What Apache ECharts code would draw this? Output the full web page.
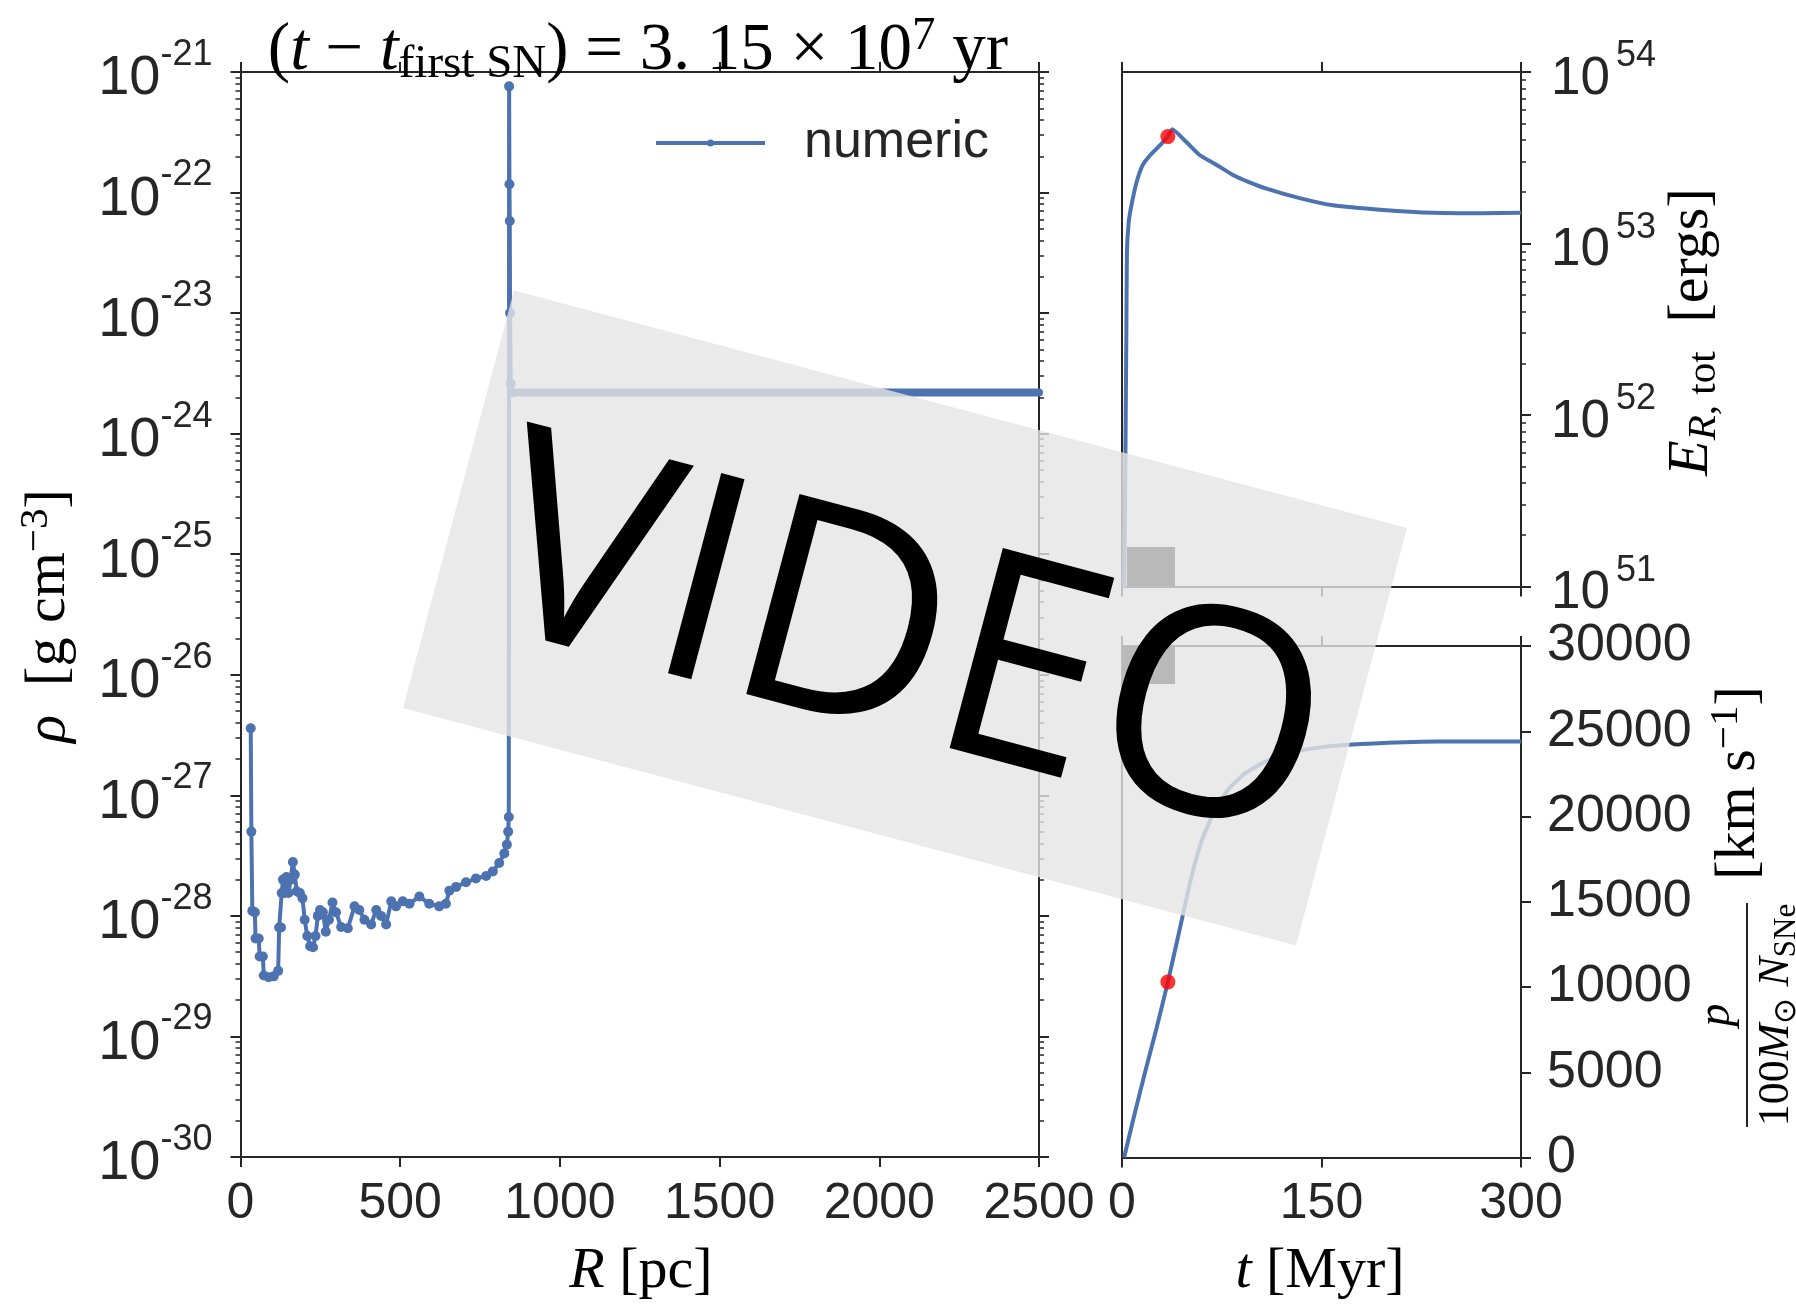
<!DOCTYPE html>
<html><head><meta charset="utf-8">
<script src="https://cdn.jsdelivr.net/npm/echarts@6/dist/echarts.min.js"></script>
<style>html,body{margin:0;padding:0;background:#fff}#c{width:1796px;height:1305px}</style>
</head><body><div id="c"></div>
<script>
// ---------- data ----------
const innerRadius = [32, 34, 37, 45, 47, 57, 60, 70, 73, 88, 104, 118, 121, 127, 129, 133, 138, 144, 150, 157, 164, 170, 176, 186, 194, 201, 209, 218, 227, 235, 242, 249, 258, 267, 277, 288, 299, 315, 336, 357, 372, 388, 409, 425, 440, 456, 472, 487, 508, 529, 560, 591, 622, 643, 654, 675, 706, 737, 769, 790, 810, 826, 834, 838, 840, 841, 842, 843, 844, 846, 850];
const innerDensity = [3.6e-27, 5.0e-28, 1.1e-28, 1.07e-28, 6.5e-29, 6.5e-29, 4.6e-29, 4.6e-29, 3.2e-29, 3.1e-29, 3.15e-29, 3.5e-29, 8.0e-29, 8.0e-29, 1.55e-28, 2.0e-28, 1.55e-28, 2.1e-28, 1.55e-28, 2.0e-28, 2.8e-28, 2.2e-28, 1.6e-28, 1.55e-28, 1.4e-28, 9.3e-29, 6.8e-29, 5.6e-29, 5.5e-29, 6.8e-29, 1.0e-28, 1.12e-28, 1.07e-28, 7.4e-29, 9.3e-29, 1.29e-28, 1.07e-28, 8.1e-29, 7.9e-29, 1.2e-28, 1.12e-28, 9.3e-29, 8.5e-29, 1.12e-28, 1.0e-28, 8.5e-29, 1.32e-28, 1.2e-28, 1.32e-28, 1.26e-28, 1.45e-28, 1.26e-28, 1.2e-28, 1.26e-28, 1.62e-28, 1.74e-28, 1.9e-28, 2.04e-28, 2.14e-28, 2.34e-28, 2.75e-28, 3.3e-28, 3.9e-28, 5.0e-28, 6.6e-28, 7.6e-22, 1.17e-22, 5.8e-23, 1.0e-23, 2.6e-24, 2.2e-24];
const plateauRadius = [850, 870, 890, 910, 930, 950, 970, 990, 1010, 1030, 1050, 1070, 1090, 1110, 1130, 1150, 1170, 1190, 1210, 1230, 1250, 1270, 1290, 1310, 1330, 1350, 1370, 1390, 1410, 1430, 1450, 1470, 1490, 1510, 1530, 1550, 1570, 1590, 1610, 1630, 1650, 1670, 1690, 1710, 1730, 1750, 1770, 1790, 1810, 1830, 1850, 1870, 1890, 1910, 1930, 1950, 1970, 1990, 2010, 2030, 2050, 2070, 2090, 2110, 2130, 2150, 2170, 2190, 2210, 2230, 2250, 2270, 2290, 2310, 2330, 2350, 2370, 2390, 2410, 2430, 2450, 2470, 2490, 2500];
const plateauDensity = [2.2e-24, 2.2e-24, 2.2e-24, 2.2e-24, 2.2e-24, 2.2e-24, 2.2e-24, 2.2e-24, 2.2e-24, 2.2e-24, 2.2e-24, 2.2e-24, 2.2e-24, 2.2e-24, 2.2e-24, 2.2e-24, 2.2e-24, 2.2e-24, 2.2e-24, 2.2e-24, 2.2e-24, 2.2e-24, 2.2e-24, 2.2e-24, 2.2e-24, 2.2e-24, 2.2e-24, 2.2e-24, 2.2e-24, 2.2e-24, 2.2e-24, 2.2e-24, 2.2e-24, 2.2e-24, 2.2e-24, 2.2e-24, 2.2e-24, 2.2e-24, 2.2e-24, 2.2e-24, 2.2e-24, 2.2e-24, 2.2e-24, 2.2e-24, 2.2e-24, 2.2e-24, 2.2e-24, 2.2e-24, 2.2e-24, 2.2e-24, 2.2e-24, 2.2e-24, 2.2e-24, 2.2e-24, 2.2e-24, 2.2e-24, 2.2e-24, 2.2e-24, 2.2e-24, 2.2e-24, 2.2e-24, 2.2e-24, 2.2e-24, 2.2e-24, 2.2e-24, 2.2e-24, 2.2e-24, 2.2e-24, 2.2e-24, 2.2e-24, 2.2e-24, 2.2e-24, 2.2e-24, 2.2e-24, 2.2e-24, 2.2e-24, 2.2e-24, 2.2e-24, 2.2e-24, 2.2e-24, 2.2e-24, 2.2e-24, 2.2e-24, 2.2e-24];

const energyTime = [1.2, 1.8, 2.4, 2.9, 3.3, 3.7, 5.0, 6.9, 10.7, 15.7, 20.7, 27.0, 34.0, 37.8, 48.0, 58.3, 70.0, 83.4, 95.0, 108.6, 133.6, 158.7, 196.3, 234.0, 271.6, 300.0];
const energy = [3.98e50, 1.26e51, 3.98e51, 1.26e52, 3.16e52, 8.91e52, 1.32e53, 1.64e53, 2.24e53, 2.88e53, 3.24e53, 3.63e53, 4.17e53, 4.63e53, 3.93e53, 3.28e53, 2.91e53, 2.51e53, 2.29e53, 2.09e53, 1.84e53, 1.67e53, 1.57e53, 1.51e53, 1.50e53, 1.51e53];

const momentumTime = [1.6, 9, 17, 26, 34.5, 44, 52, 60, 70, 80, 92, 105, 120, 140, 160, 180, 200, 225, 250, 275, 300];
const momentum = [0, 2400, 4900, 7600, 10300, 13600, 16400, 18600, 20400, 21600, 22500, 23100, 23600, 23950, 24150, 24250, 24320, 24380, 24400, 24400, 24400];

const currentTime = [34.5];
const currentEnergy = [4.2e53];
const currentMomentum = [10300];

// ---------- ticks (exponents for the log-scaled axes) ----------
const radiusTicks = [0, 500, 1000, 1500, 2000, 2500];
const densityExponents = [-30, -29, -28, -27, -26, -25, -24, -23, -22, -21];
const energyExponents = [51, 52, 53, 54];
const timeTicks = [0, 150, 300];
const momentumTicks = [0, 5000, 10000, 15000, 20000, 25000, 30000];
const minorMultipliers = [2, 3, 4, 5, 6, 7, 8, 9];

function minorsOf(exps) {
  const out = [];
  for (let i = 0; i < exps.length - 1; i++) minorMultipliers.forEach(k => out.push(exps[i] + Math.log10(k)));
  return out;
}
const lg = v => Math.log10(v);

// ---------- styles ----------
const FONT = '"Liberation Sans", Arial, sans-serif';
const SERIF = '"Liberation Serif", "Times New Roman", serif';
const TXT = '#262626';
const AX = '#262626';
const BLUE = '#4C72B0';

function decadeRich(size, supSize, gap) {
  return {
    b: {fontFamily: FONT, fontSize: size, color: TXT, lineHeight: size + 14, verticalAlign: 'bottom'},
    s: {fontFamily: FONT, fontSize: supSize, color: TXT, lineHeight: supSize, verticalAlign: 'top', padding: [0, 0, 0, gap]}
  };
}
const decadeFormatter = v => '{b|10}{s|' + Math.round(v) + '}';
const plainFormatter = v => String(v);

function lineOpt(show) { return {show: show, onZero: false, lineStyle: {color: AX, width: 2}}; }
function tickOpt(len, w, values) {
  const o = {show: true, inside: false, length: len, lineStyle: {color: AX, width: w}};
  if (values) o.customValues = values;
  return o;
}
const noLabel = {show: false};
const noSplit = {show: false};

function xAxis(grid, pos, ticks, labels) {
  return {
    gridIndex: grid, type: 'value', position: pos, min: ticks[0], max: ticks[ticks.length - 1],
    interval: ticks[1] - ticks[0],
    axisLine: lineOpt(true), axisTick: tickOpt(10, 2, ticks), splitLine: noSplit,
    axisLabel: labels ? {show: true, customValues: ticks, formatter: plainFormatter, fontFamily: FONT, fontSize: 50, color: TXT, margin: 22} : noLabel
  };
}
function expAxis(grid, pos, exps, tickVals, len, w, label) {
  return {
    gridIndex: grid, type: 'value', position: pos, min: exps[0], max: exps[exps.length - 1], interval: 1,
    axisLine: lineOpt(true), axisTick: tickOpt(len, w, tickVals), splitLine: noSplit,
    axisLabel: label || noLabel
  };
}

const densityMinor = minorsOf(densityExponents);
const energyMinor = minorsOf(energyExponents);

const option = {
  animation: false,
  backgroundColor: '#ffffff',
  grid: [
    {left: 240.5, top: 72, width: 798.5, height: 1085, containLabel: false, outerBoundsMode: 'none'},
    {left: 1122, top: 72, width: 399, height: 514.5, containLabel: false, outerBoundsMode: 'none'},
    {left: 1122, top: 646, width: 399, height: 511.5, containLabel: false, outerBoundsMode: 'none'}
  ],
  xAxis: [
    xAxis(0, 'bottom', radiusTicks, true),
    xAxis(0, 'top', radiusTicks, false),
    xAxis(1, 'top', timeTicks, false),
    xAxis(1, 'bottom', timeTicks, false),
    xAxis(2, 'bottom', timeTicks, true),
    xAxis(2, 'top', timeTicks, false)
  ],
  yAxis: [
    expAxis(0, 'left', densityExponents, densityExponents, 10, 2,
      {show: true, customValues: densityExponents, formatter: decadeFormatter, rich: decadeRich(56, 36, 0), margin: 28}),
    expAxis(0, 'left', densityExponents, densityMinor, 5, 1.5),
    expAxis(0, 'right', densityExponents, densityExponents, 10, 2),
    expAxis(0, 'right', densityExponents, densityMinor, 5, 1.5),
    expAxis(1, 'right', energyExponents, energyExponents, 10, 2,
      {show: true, customValues: energyExponents, formatter: decadeFormatter, rich: decadeRich(53, 36, 6), margin: 30}),
    expAxis(1, 'right', energyExponents, energyMinor, 5, 1.5),
    {gridIndex: 1, type: 'value', position: 'left', min: 51, max: 54, interval: 1,
      axisLine: lineOpt(true), axisTick: {show: false}, axisLabel: noLabel, splitLine: noSplit},
    {gridIndex: 2, type: 'value', position: 'right', min: 0, max: 30000, interval: 5000,
      axisLine: lineOpt(true), axisTick: tickOpt(10, 2, momentumTicks), splitLine: noSplit,
      axisLabel: {show: true, customValues: momentumTicks, formatter: plainFormatter, fontFamily: FONT, fontSize: 52, color: TXT, margin: 26}},
    {gridIndex: 2, type: 'value', position: 'left', min: 0, max: 30000, interval: 5000,
      axisLine: lineOpt(true), axisTick: {show: false}, axisLabel: noLabel, splitLine: noSplit}
  ],
  legend: {
    left: 649, top: 112, itemWidth: 109, itemHeight: 9, data: ['numeric'],
    textStyle: {fontFamily: FONT, fontSize: 52, color: TXT, padding: [0, 0, 0, 34]},
    lineStyle: {width: 4},
    selectedMode: false
  },
  series: [
    {
      name: 'numeric', type: 'line', xAxisIndex: 0, yAxisIndex: 0,
      data: innerRadius.map((r, i) => [r, lg(innerDensity[i])]),
      symbol: 'circle', symbolSize: 10, showAllSymbol: true,
      lineStyle: {color: BLUE, width: 4}, itemStyle: {color: BLUE},
      emphasis: {disabled: true}, z: 3
    },
    {
      name: 'numeric', type: 'line', xAxisIndex: 0, yAxisIndex: 0,
      data: plateauRadius.map((r, i) => [r, lg(plateauDensity[i])]),
      symbol: 'none', lineStyle: {color: BLUE, width: 8, cap: 'round'},
      emphasis: {disabled: true}, z: 3
    },
    {
      type: 'line', xAxisIndex: 2, yAxisIndex: 4,
      data: energyTime.map((t, i) => [t, lg(energy[i])]),
      symbol: 'none', smooth: 0.15, lineStyle: {color: BLUE, width: 4}, emphasis: {disabled: true}, z: 3
    },
    {
      type: 'scatter', xAxisIndex: 2, yAxisIndex: 4,
      data: currentTime.map((t, i) => [t, lg(currentEnergy[i])]),
      symbol: 'circle', symbolSize: 15, itemStyle: {color: '#ff0000'}, emphasis: {disabled: true}, z: 4
    },
    {
      type: 'line', xAxisIndex: 4, yAxisIndex: 7,
      data: momentumTime.map((t, i) => [t, momentum[i]]),
      symbol: 'none', smooth: 0.15, lineStyle: {color: BLUE, width: 4}, emphasis: {disabled: true}, z: 3
    },
    {
      type: 'scatter', xAxisIndex: 4, yAxisIndex: 7,
      data: currentTime.map((t, i) => [t, currentMomentum[i]]),
      symbol: 'circle', symbolSize: 15, itemStyle: {color: '#ff0000'}, emphasis: {disabled: true}, z: 4
    }
  ]
};

// ---------- text & overlay ----------
function serifRich(size) {
  const s = Math.round(size * 0.7);
  return {
    r: {fontFamily: SERIF, fontSize: size, color: TXT, lineHeight: size + 8},
    i: {fontFamily: SERIF, fontStyle: 'italic', fontSize: size, color: TXT, lineHeight: size + 8},
    sub: {fontFamily: SERIF, fontSize: s, color: TXT, lineHeight: s + 2, verticalAlign: 'bottom'},
    subi: {fontFamily: SERIF, fontStyle: 'italic', fontSize: s, color: TXT, lineHeight: s + 2, verticalAlign: 'bottom'},
    sup: {fontFamily: SERIF, fontSize: s, color: TXT, lineHeight: s + 4, verticalAlign: 'top'}
  };
}
const NB = '\u00a0';
option.graphic = [
  {type: 'text', x: 638, y: 51, z: 10, style: {
    text: '{r|(}{i|t}{r|' + NB + '−' + NB + '}{i|t}{sub|first SN}{r|)' + NB + '=' + NB + '3.' + NB + '15' + NB + '×' + NB + '10}{sup|7}{r|' + NB + 'yr}',
    align: 'center', verticalAlign: 'middle', rich: serifRich(67)}},
  {type: 'text', x: 49, y: 616, rotation: Math.PI / 2, z: 10, style: {
    text: '{i|ρ}{r|' + NB + NB + '[g' + NB + 'cm}{sup|−3}{r|]}', align: 'center', verticalAlign: 'middle', rich: serifRich(58)}},
  {type: 'text', x: 641, y: 1272, z: 10, style: {
    text: '{i|R}{r|' + NB + '[pc]}', align: 'center', verticalAlign: 'middle', rich: serifRich(58)}},
  {type: 'text', x: 1320, y: 1272, z: 10, style: {
    text: '{i|t}{r|' + NB + '[Myr]}', align: 'center', verticalAlign: 'middle', rich: serifRich(58)}},
  {type: 'text', x: 1692, y: 332, rotation: Math.PI / 2, z: 10, style: {
    text: '{i|E}{subi|R}{sub|,' + NB + 'tot}{r|' + NB + NB + '[ergs]}', align: 'center', verticalAlign: 'middle', rich: serifRich(58)}},
  {type: 'group', x: 1747, y: 1015, rotation: Math.PI / 2, z: 10, children: [
    {type: 'line', shape: {x1: -112, y1: 0, x2: 112, y2: 0}, style: {stroke: TXT, lineWidth: 2}},
    {type: 'text', x: 0, y: -3, style: {text: '{i|p}', align: 'center', verticalAlign: 'bottom', rich: serifRich(46)}},
    {type: 'text', x: 0, y: 3, style: {text: '{r|100}{i|M}{sub|⊙}{i|' + NB + 'N}{sub|SNe}', align: 'center', verticalAlign: 'top', rich: serifRich(44)}},
    {type: 'text', x: 232, y: -8, style: {text: '{r|[km' + NB + 's}{sup|−1}{r|]}', align: 'center', verticalAlign: 'middle', rich: serifRich(58)}}
  ]},
  // watermark overlay
  {type: 'rect', x: 905, y: 618, rotation: -0.26, z: 100,
    shape: {x: -462, y: -216, width: 924, height: 432}, style: {fill: 'rgba(229,229,229,0.8)'}},
  {type: 'rect', z: 101, shape: {x: 1127, y: 547, width: 48, height: 39}, style: {fill: '#b9b9b9'}},
  {type: 'rect', z: 101, shape: {x: 1122, y: 646, width: 53, height: 38}, style: {fill: '#b9b9b9'}},
  {type: 'text', x: 906, y: 651, rotation: -0.26, z: 102, style: {
    text: 'VIDEO', fontFamily: '"Open Sans", "Noto Sans", sans-serif', fontSize: 290, fill: '#000000',
    align: 'center', verticalAlign: 'middle'}}
];

const chart = echarts.init(document.getElementById('c'), null, {renderer: 'canvas'});
chart.setOption(option);
</script>
</body></html>
